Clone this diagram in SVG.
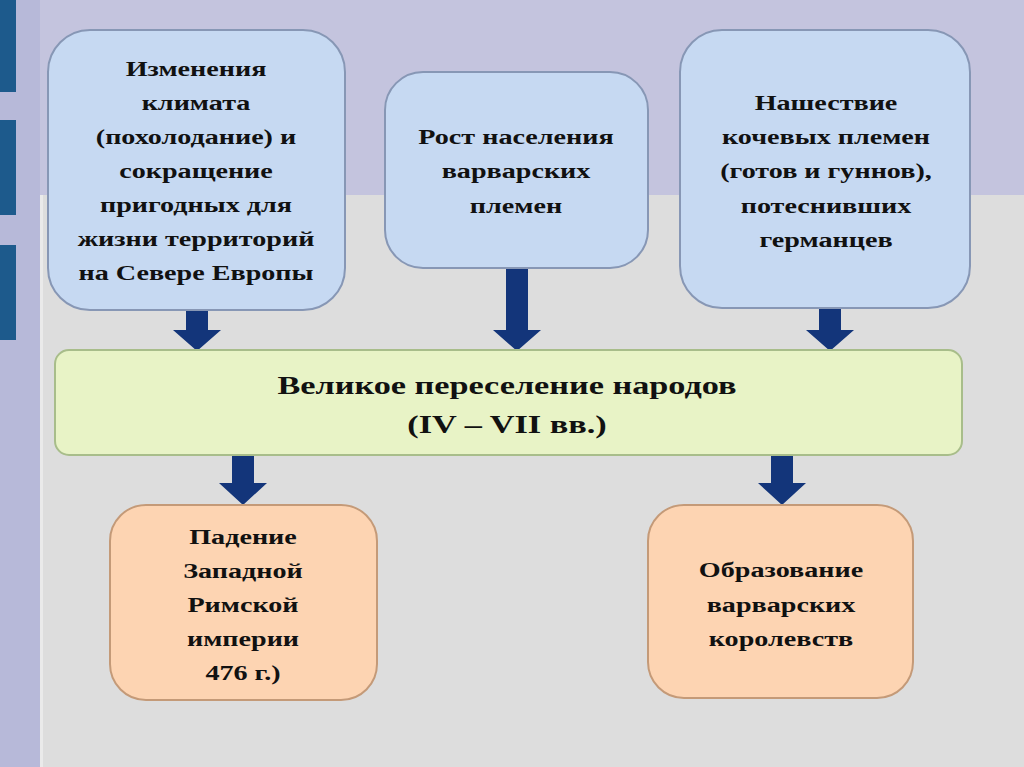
<svg xmlns="http://www.w3.org/2000/svg" width="1024" height="767" viewBox="0 0 1024 767">
<defs>
<style>
.t{font-family:"Liberation Serif","DejaVu Serif",serif;font-weight:bold;font-size:21px;fill:#111;text-anchor:middle}
.tb{font-size:25px}
.blue{fill:#c6d9f2;stroke:#8797b5;stroke-width:2}
.green{fill:#e8f3c6;stroke:#a8bd8a;stroke-width:2}
.orange{fill:#fdd4b2;stroke:#c49a78;stroke-width:2}
.arr{fill:#13357a}
</style>
</defs>
<rect width="1024" height="767" fill="#dddddd"/>
<rect x="40" y="0" width="984" height="195" fill="#c4c4de"/>
<rect x="0" y="0" width="40" height="767" fill="#b7b9d9"/>
<rect x="40" y="195" width="3" height="572" fill="#eaeaea"/>
<rect x="0" y="0" width="16" height="92" fill="#1d5a8c"/>
<rect x="0" y="120" width="16" height="95" fill="#1d5a8c"/>
<rect x="0" y="245" width="16" height="95" fill="#1d5a8c"/>
<g id="connectors">
<path class="arr" d="M186 310h22v20h13l-24 21l-24-21h13z"/>
<path class="arr" d="M506 268h22v62h13l-24 21l-24-21h13z"/>
<path class="arr" d="M819 308h22v22h13l-24 21l-24-21h13z"/>
<path class="arr" d="M232 455h22v28h13l-24 22l-24-22h13z"/>
<path class="arr" d="M771 455h22v28h13l-24 22l-24-22h13z"/>
</g>
<g id="n1">
<rect class="blue" x="48" y="30" width="297" height="280" rx="42"/>
<g transform="translate(196 0) scale(1.34 1)">
<text class="t" x="0" y="76">Изменения</text>
<text class="t" x="0" y="110">климата</text>
<text class="t" x="0" y="144">(похолодание) и</text>
<text class="t" x="0" y="178">сокращение</text>
<text class="t" x="0" y="212">пригодных для</text>
<text class="t" x="0" y="246">жизни территорий</text>
<text class="t" x="0" y="280">на Севере Европы</text>
</g>
</g>
<g id="n2">
<rect class="blue" x="385" y="72" width="263" height="196" rx="38"/>
<g transform="translate(516 0) scale(1.34 1)">
<text class="t" x="0" y="144">Рост населения</text>
<text class="t" x="0" y="178">варварских</text>
<text class="t" x="0" y="213">племен</text>
</g>
</g>
<g id="n3">
<rect class="blue" x="680" y="30" width="290" height="278" rx="42"/>
<g transform="translate(826 0) scale(1.34 1)">
<text class="t" x="0" y="110">Нашествие</text>
<text class="t" x="0" y="144">кочевых племен</text>
<text class="t" x="0" y="178">(готов и гуннов),</text>
<text class="t" x="0" y="213">потеснивших</text>
<text class="t" x="0" y="247">германцев</text>
</g>
</g>
<g id="n4">
<rect class="green" x="55" y="350" width="907" height="105" rx="14"/>
<g transform="translate(507 0) scale(1.37 1)">
<text class="t tb" x="0" y="394">Великое переселение народов</text>
<text class="t tb" x="0" y="433">(IV – VII вв.)</text>
</g>
</g>
<g id="n5">
<rect class="orange" x="110" y="505" width="267" height="195" rx="36"/>
<g transform="translate(243 0) scale(1.34 1)">
<text class="t" x="0" y="544">Падение</text>
<text class="t" x="0" y="578">Западной</text>
<text class="t" x="0" y="612">Римской</text>
<text class="t" x="0" y="646">империи</text>
<text class="t" x="0" y="680">476 г.)</text>
</g>
</g>
<g id="n6">
<rect class="orange" x="648" y="505" width="265" height="193" rx="36"/>
<g transform="translate(781 0) scale(1.34 1)">
<text class="t" x="0" y="577">Образование</text>
<text class="t" x="0" y="612">варварских</text>
<text class="t" x="0" y="646">королевств</text>
</g>
</g>
</svg>
